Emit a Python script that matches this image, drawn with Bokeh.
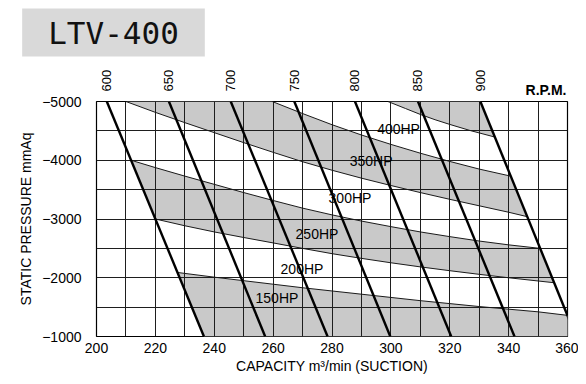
from bokeh.plotting import figure
from bokeh.models import (Range1d, LinearAxis, FixedTicker, SingleIntervalTicker,
                          Label, ColumnDataSource)
from bokeh.core.properties import value
from bokeh.embed import file_html
from bokeh.resources import INLINE

# ---------------- data ----------------
x_ticks = [200, 220, 240, 260, 280, 300, 320, 340, 360]
y_ticks = [-5000, -4000, -3000, -2000, -1000]

rpm_values = [600, 650, 700, 750, 800, 850, 900]
rpm_cap_at_5000 = [203.5, 224.6, 245.6, 267.2, 287.8, 309.2, 330.4]
rpm_cap_at_1000 = [236.5, 257.3, 278.5, 299.8, 320.5, 342.0, 362.9]

# boundary between 150HP and 200HP
s_x = [227.5, 240, 250, 260, 270, 280, 290, 300, 310, 320, 330, 340, 350, 360]
s_y = [-2090, -2010, -1950, -1890, -1830, -1775, -1720, -1665, -1610, -1560, -1510, -1465, -1420, -1360]
# boundary between 200HP and 250HP
r_x = [220, 230, 240, 250, 260, 270, 280, 290, 300, 310, 320, 330, 340, 350, 355.5]
r_y = [-3000, -2885, -2780, -2685, -2593, -2500, -2410, -2330, -2255, -2185, -2120, -2058, -2000, -1945, -1915]
# boundary between 250HP and 300HP
q_x = [211.75, 220, 230, 240, 250, 260, 270, 280, 290, 300, 310, 320, 330, 340, 350.7]
q_y = [-4000, -3875, -3730, -3590, -3450, -3315, -3185, -3070, -2965, -2870, -2780, -2700, -2625, -2560, -2500]
# boundary between 300HP and 350HP
p_x = [210, 220, 230, 240, 250, 260, 270, 280, 290, 300, 310, 320, 330, 340, 346.3]
p_y = [-5000, -4815, -4640, -4470, -4300, -4135, -3975, -3830, -3695, -3570, -3450, -3335, -3225, -3115, -3040]
# boundary between 350HP and 400HP
u_x = [259.7, 270, 280, 290, 300, 310, 320, 330, 340.7]
u_y = [-5000, -4795, -4605, -4430, -4270, -4120, -3980, -3850, -3730]
# boundary above 400HP
v_x = [299, 305, 310, 315, 320, 327, 335.3]
v_y = [-5000, -4880, -4780, -4690, -4610, -4505, -4395]

hp_labels = ["150HP", "200HP", "250HP", "300HP", "350HP", "400HP"]

# ---------------- figure ----------------
p = figure(width=578, height=376, output_backend="svg", toolbar_location=None,
           x_range=Range1d(200, 360), y_range=Range1d(-1000, -5000),
           min_border_left=96, min_border_right=11, min_border_top=101, min_border_bottom=40,
           background_fill_color="white", border_fill_color="white")
p.outline_line_color = "black"
p.outline_line_width = 1.2

FONT = "Liberation Sans"

# grid
p.xgrid.ticker = SingleIntervalTicker(interval=10)
p.ygrid.ticker = SingleIntervalTicker(interval=500)
for g in (p.xgrid, p.ygrid):
    g.grid_line_color = "#1e1e1e"
    g.grid_line_width = 1
    g.grid_line_alpha = 1

# axes
p.xaxis.ticker = FixedTicker(ticks=x_ticks)
p.yaxis.ticker = FixedTicker(ticks=y_ticks)
for ax in (p.xaxis, p.yaxis):
    ax.axis_line_color = None
    ax.major_tick_line_color = None
    ax.minor_tick_line_color = None
    ax.major_tick_out = 0
    ax.major_tick_in = 0
    ax.major_label_text_font = FONT
    ax.major_label_text_font_size = "14px"
    ax.major_label_text_color = "black"
    ax.axis_label_text_font = FONT
    ax.axis_label_text_font_size = "14px"
    ax.axis_label_text_font_style = "normal"
    ax.axis_label_text_color = "black"
p.xaxis.axis_label = "CAPACITY m\u00b3/min (SUCTION)"
p.yaxis.axis_label = "STATIC PRESSURE mmAq"
p.xaxis.major_label_standoff = 6
p.xaxis.axis_label_standoff = 2
p.yaxis.major_label_standoff = 15
p.yaxis.axis_label_standoff = 5

top_axis = LinearAxis(ticker=FixedTicker(ticks=rpm_cap_at_5000),
                      major_label_overrides={c: str(r) for c, r in zip(rpm_cap_at_5000, rpm_values)},
                      major_label_orientation="vertical")
top_axis.axis_line_color = None
top_axis.major_tick_line_color = None
top_axis.minor_tick_line_color = None
top_axis.major_tick_out = 0
top_axis.major_tick_in = 0
top_axis.major_label_standoff = 10
top_axis.major_label_text_font = FONT
top_axis.major_label_text_font_size = "13px"
top_axis.major_label_text_color = "black"
p.add_layout(top_axis, "above")

# shaded bands
band_fill = "#c9c9c9"
band_xs = [
    s_x + [rpm_cap_at_1000[-1], rpm_cap_at_1000[0]],
    r_x + q_x[::-1],
    p_x + u_x[::-1],
    v_x + [rpm_cap_at_5000[-1]],
]
band_ys = [
    s_y + [-1000, -1000],
    r_y + q_y[::-1],
    p_y + u_y[::-1],
    v_y + [-5000],
]
bands = p.patches(xs=band_xs, ys=band_ys, fill_color=band_fill, line_color=None)
bands.level = "image"

# HP boundary curves
p.multi_line(xs=[s_x, r_x, q_x, p_x, u_x, v_x], ys=[s_y, r_y, q_y, p_y, u_y, v_y],
             line_color="#1a1a1a", line_width=1)

# RPM lines
p.segment(x0=rpm_cap_at_5000, y0=[-5000] * len(rpm_values),
          x1=rpm_cap_at_1000, y1=[-1000] * len(rpm_values),
          line_color="black", line_width=2.4)

# HP labels
hp_src = ColumnDataSource(dict(
    x=[261.3, 269.8, 274.9, 286.1, 293.3, 302.6],
    y=[-1647, -2157, -2753, -3349, -3984, -4540],
    t=hp_labels))
p.text(x="x", y="y", text="t", source=hp_src, text_align="center", text_baseline="middle",
       text_font=value(FONT), text_font_size="14px", text_color="black")

# R.P.M. label (in the top side panel so it is not clipped to the frame)
p.add_layout(Label(x=470, y=-23, x_units="screen", y_units="screen", text="R.P.M.",
                   text_align="right", text_baseline="middle", text_font=FONT,
                   text_font_size="14px", text_font_style="bold", text_color="black"), "above")

# title box
p.add_layout(Label(x=17, y=18, x_units="screen", y_units="screen", text="LTV-400",
                   text_align="center", text_baseline="middle", text_font="DejaVu Sans Mono",
                   text_font_size="31px", text_color="#111111",
                   background_fill_color="#d9d9d9", padding=(26, 6)), "above")

open("out.html", "w").write(file_html(p, INLINE))
